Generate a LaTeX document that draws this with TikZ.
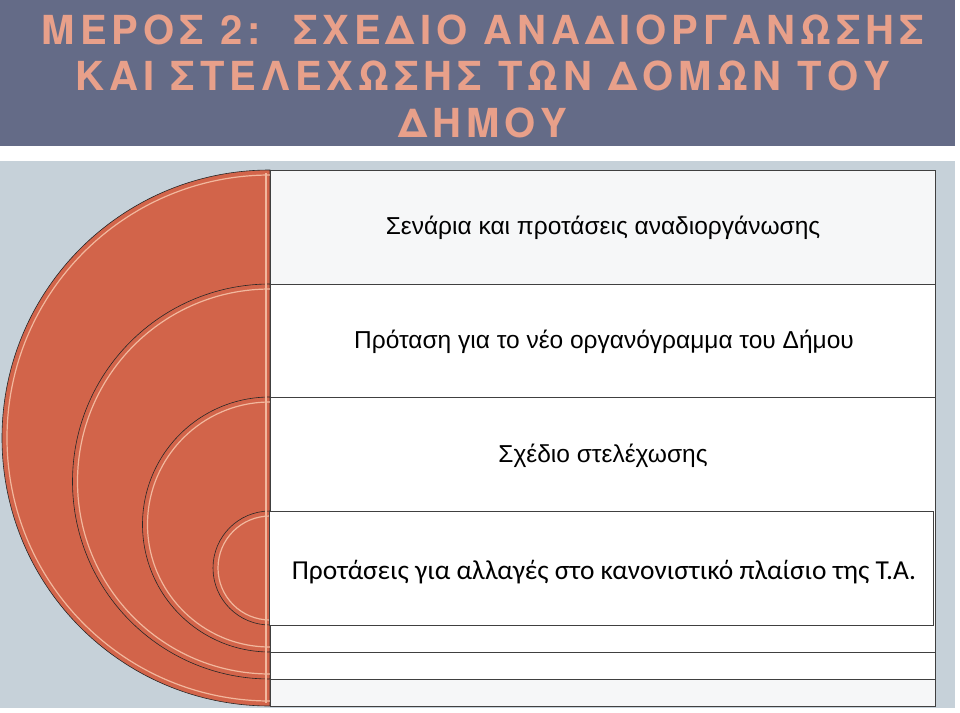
\documentclass[tikz,border=0pt]{standalone}
\usepackage{fontspec}
\setmainfont{Liberation Sans}
\newfontfamily\titlefont{TeX Gyre Heros}[LetterSpace=12.5]
\newfontfamily\calibri{Carlito}
\definecolor{banner}{HTML}{646B87}
\definecolor{salmon}{HTML}{E8A08A}
\definecolor{panel}{HTML}{C6D1D9}
\definecolor{ring}{HTML}{D2644A}
\definecolor{ringlight}{HTML}{F2B89E}
\definecolor{rowgray}{HTML}{F6F7F8}
\tikzset{
  title/.style={text=salmon, font=\titlefont\bfseries\fontsize{40}{46.5}\selectfont, align=center, inner sep=0pt},
  rowtext/.style={font=\fontsize{24.5}{29}\selectfont, inner sep=0pt},
  rowbox/.style={draw=black!75, line width=.8pt},
  disc/.style={fill=ring, draw=black!85, line width=.6pt},
  hilite/.style={draw=ringlight, line width=1.2pt}
}
\begin{document}
\begin{tikzpicture}[x=1pt,y=1pt]
\useasboundingbox (0,0) rectangle (960,-712);
\fill[banner] (0,0) rectangle (955,-146);
\fill[panel] (0,-161) rectangle (955,-708);
\node[title] (title) at (483,-76) {ΜΕΡΟΣ 2:\ \ ΣΧΕΔΙΟ ΑΝΑΔΙΟΡΓΑΝΩΣΗΣ\\ΚΑΙ ΣΤΕΛΕΧΩΣΗΣ ΤΩΝ ΔΟΜΩΝ ΤΟΥ\\ΔΗΜΟΥ};

% outer level
\draw[disc] (270,-170) arc[start angle=90, end angle=270, radius=268] -- cycle;
\draw[hilite] (270,-175) arc[start angle=90, end angle=270, radius=263];
\fill[rowgray] (270,-170) rectangle (935,-706);
\draw[rowbox] (270,-170) rectangle (935,-706);
% second level
\draw[disc] (270,-284) arc[start angle=90, end angle=270, radius=197.5] -- cycle;
\draw[hilite] (270,-289) arc[start angle=90, end angle=270, radius=192.5];
\fill[white] (270,-284) rectangle (935,-679);
\draw[rowbox] (270,-284) rectangle (935,-679);
% third level
\draw[disc] (270,-397) arc[start angle=90, end angle=270, radius=127.5] -- cycle;
\draw[hilite] (270,-402) arc[start angle=90, end angle=270, radius=122.5];
\fill[white] (270,-397) rectangle (935,-652);
\draw[rowbox] (270,-397) rectangle (935,-652);
% inner level
\draw[disc] (270,-511) arc[start angle=90, end angle=270, radius=57] -- cycle;
\draw[hilite] (270,-516) arc[start angle=90, end angle=270, radius=52];
\fill[white] (269,-511) rectangle (933,-625);
\draw[rowbox] (269,-511) rectangle (933,-625);
\draw[hilite] (266,-173) -- (266,-703);

\node[rowtext] (scen) at (603,-228) {Σενάρια και προτάσεις αναδιοργάνωσης};
\node[rowtext] (org) at (604,-342) {Πρόταση για το νέο οργανόγραμμα του Δήμου};
\node[rowtext] (staff) at (603,-456) {Σχέδιο στελέχωσης};
\node[rowtext, font=\calibri\fontsize{27.4}{32}\selectfont] (legal) at (604,-572) {Προτάσεις για αλλαγές στο κανονιστικό πλαίσιο της Τ.Α.};
\end{tikzpicture}
\end{document}
